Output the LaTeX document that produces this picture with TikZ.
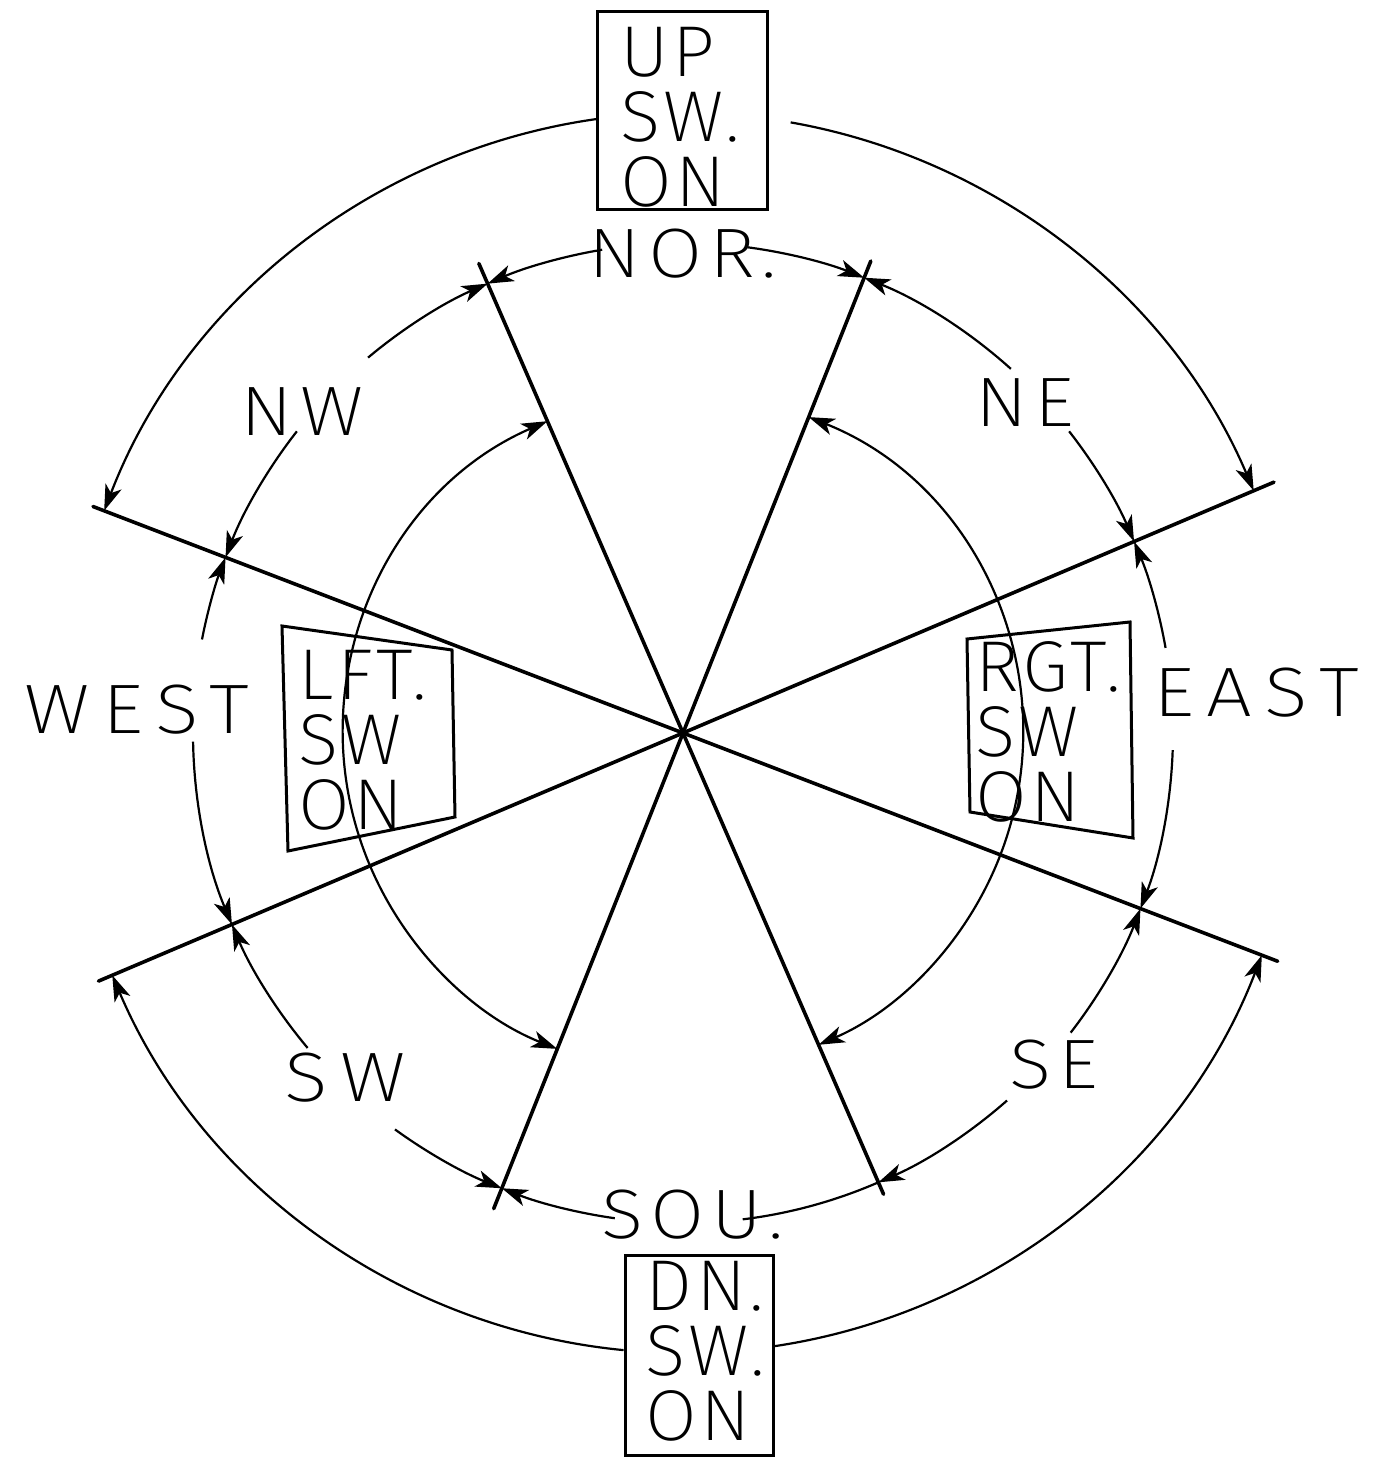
\documentclass[tikz,border=0pt]{standalone}
\usepackage{fontspec}
\IfFontExistsTF{Fira Sans ExtraLight}
  {\def\handfont{Fira Sans ExtraLight}}
  {\IfFontExistsTF{Fira Sans Light}
     {\def\handfont{Fira Sans Light}}
     {\def\handfont{Liberation Sans}}}
\setmainfont{\handfont}[FakeStretch=1.12,LetterSpace=10]
\newfontfamily\boxfont{\handfont}[FakeStretch=1.04,LetterSpace=5]
\newfontfamily\widefont{\handfont}[FakeStretch=1.16,LetterSpace=18]
\usetikzlibrary{arrows.meta}
\newcommand\myarc[4]{\draw[#1] (#2:#4) arc[start angle=#2, end angle=#3, radius=#4];}
\tikzset{
  radial/.style={line width=1.8pt, line cap=round},
  arcline/.style={line width=1.1pt},
  tipend/.style={arcline, -{Stealth[length=13pt,width=8.5pt,inset=3.5pt]}},
  tipboth/.style={arcline, {Stealth[length=13pt,width=8.5pt,inset=3.5pt]}-{Stealth[length=13pt,width=8.5pt,inset=3.5pt]}},
  boxline/.style={line width=1.5pt},
  lbl/.style={inner sep=0pt, font=\fontsize{35}{32.5}\selectfont},
  widelbl/.style={inner sep=0pt, font=\fontsize{35}{32.5}\widefont},
  boxtext/.style={inner sep=0pt, align=left, font=\fontsize{36}{32.5}\boxfont},
}
\begin{document}
\begin{tikzpicture}[x=0.5pt,y=0.5pt]
\useasboundingbox (-683,-726) rectangle (699,733);
% centre and line ends
\coordinate (ctr) at (0,0);
\coordinate (A1) at (113.5:512);
\coordinate (A2) at (293.5:503);
\coordinate (B1) at (68.3:508);
\coordinate (B2) at (248.3:512);
\coordinate (C1) at (159:632);
\coordinate (C2) at (339:637);
\coordinate (D1) at (23:642);
\coordinate (D2) at (203:635);
% radial lines
\draw[radial] (A1) -- (ctr) -- (A2);
\draw[radial] (B1) -- (ctr) -- (B2);
\draw[radial] (C1) -- (ctr) -- (C2);
\draw[radial] (D1) -- (ctr) -- (D2);
% middle circle
\myarc{tipend}{82.4}{68.3}{490}
\myarc{tipend}{99.5}{113.5}{490}
\myarc{tipend}{48}{68.3}{490}
\myarc{tipend}{38}{23}{490}
\myarc{tipend}{10}{23}{490}
\myarc{tipend}{-2}{-21}{490}
\myarc{tipend}{-37.7}{-21}{490}
\myarc{tipend}{-48.6}{-66.5}{490}
\myarc{tipend}{262}{248.3}{490}
\myarc{arcline}{277}{293.5}{490}
\myarc{tipend}{234}{248.3}{490}
\myarc{tipend}{220}{203}{490}
\myarc{tipend}{181}{203}{490}
\myarc{tipend}{169}{159}{490}
\myarc{tipend}{142}{159}{490}
\myarc{tipend}{130}{113.5}{490}
% inner circle
\myarc{tipboth}{113.5}{248.3}{340}
\myarc{tipboth}{68.3}{-66.5}{340}
% outer circle
\myarc{tipend}{98}{159}{620}
\myarc{tipend}{80}{23}{620}
\myarc{tipend}{264.5}{203}{620}
\myarc{tipend}{278.4}{339}{620}
% top box
\node[boxline, draw, minimum width=85pt, minimum height=99pt, inner sep=0pt] (upbox) at (-1,622) {};
\node[boxtext, anchor=west] (uptext) at (-63,616) {UP\\SW.\\ON};
% bottom box
\node[boxline, draw, minimum width=74pt, minimum height=100pt, inner sep=0pt] (dnbox) at (16,-622) {};
\node[boxtext, anchor=west] (dntext) at (-38,-618) {DN.\\SW.\\ON};
% left box
\coordinate (L1) at (-401,107);
\coordinate (L2) at (-231,83);
\coordinate (L3) at (-228,-84);
\coordinate (L4) at (-395,-118);
\draw[boxline] (L1) -- (L2) -- (L3) -- (L4) -- cycle;
\node[boxtext, anchor=west] (lfttext) at (-385,-7) {LFT.\\SW\\ON};
% right box
\coordinate (R1) at (284,94);
\coordinate (R2) at (447,111);
\coordinate (R3) at (450,-105);
\coordinate (R4) at (287,-79);
\draw[boxline] (R1) -- (R2) -- (R3) -- (R4) -- cycle;
\node[boxtext, anchor=west] (rgttext) at (292,1) {RGT.\\SW\\ON};
% direction labels
\node[lbl] (nor) at (0,479) {NOR.};
\node[lbl] (ne) at (342,330) {NE};
\node[widelbl] (east) at (573,40) {EAST};
\node[lbl] (se) at (371,-332) {SE};
\node[lbl] (sou) at (10,-482) {SOU.};
\node[widelbl] (sw) at (-338,-345) {SW};
\node[widelbl] (west) at (-546,23) {WEST};
\node[lbl] (nw) at (-381,321) {NW};
\end{tikzpicture}
\end{document}
